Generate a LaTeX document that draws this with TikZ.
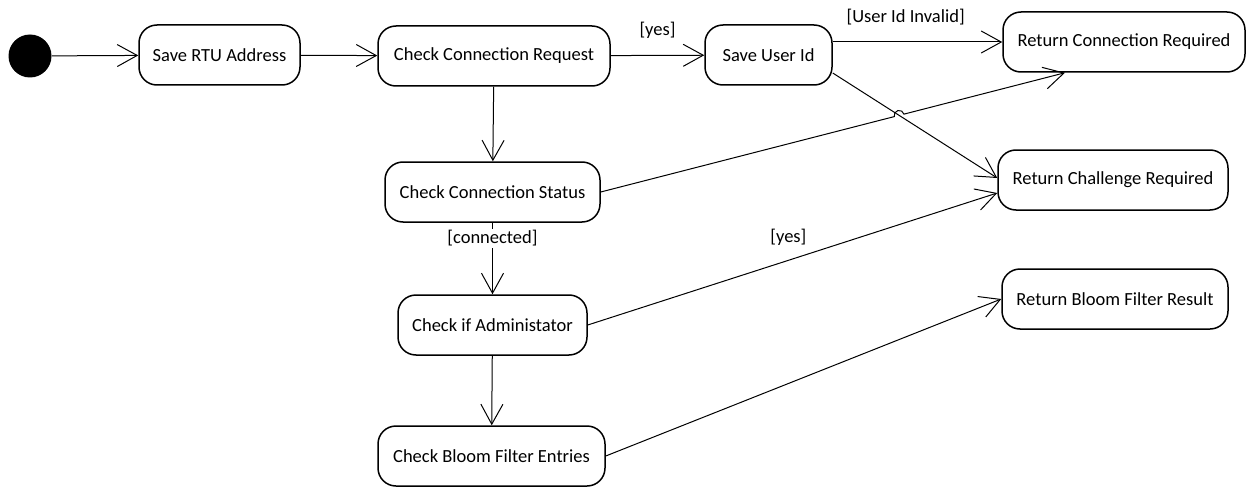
\documentclass[tikz,border=0pt]{standalone}
\usepackage{fontspec}
\setmainfont{Carlito}
\usetikzlibrary{arrows.meta,calc,intersections}

\tikzset{
  activity/.style={draw,line width=1.5pt,rounded corners=18pt,minimum height=60pt,
    inner sep=0pt,font=\fontsize{18.5}{22}\selectfont},
  guard/.style={inner sep=2pt,font=\fontsize{18.5}{22}\selectfont},
}

\begin{document}
\begin{tikzpicture}[x=1pt,y=-1pt,line width=1pt,>={Straight Barb[length=20pt,width=22pt]}]
        \useasboundingbox (0,0) rectangle (1256,487);

        % initial state
        \node[circle,fill=black,minimum size=43pt,inner sep=0pt] (start) at (30,56) {};

        % the activities
        \foreach \name/\x/\y/\w/\txt in {
            rtu/219.5/55/161/Save RTU Address,
            conreq/494/56/232/Check Connection Request,
            userid/768.5/55/127/Save User Id,
            retconn/1124/42/242/Return Connection Required,
            constat/492.5/192/215/Check Connection Status,
            retchal/1113/180/230/Return Challenge Required,
            admin/492.5/325/189/Check if Administator,
            retbloom/1115/299/226/Return Bloom Filter Result,
            bloom/491.5/456/227/Check Bloom Filter Entries}
                \node[activity,minimum width=\w pt] (\name) at (\x,\y) {\txt};

        % top row
        \draw[->] (start) -- (rtu);
        \draw[->] (rtu) -- (conreq);
        \draw[->] (conreq) -- node[guard,yshift=25pt] {[yes]} (userid);
        \draw[->] ([yshift=13pt]userid.east) -- node[guard,pos=.43,yshift=25pt] {[User Id Invalid]} (retconn.west);
        \draw[->,name path=diag] ([yshift=-18pt]userid.east) -- ([yshift=2pt]retchal.west);

        % connection status back to the top, hopping over the diagonal
        \path[name path=upline] (constat.east) -- ([xshift=-59pt]retconn.south);
        \draw[->,name intersections={of=diag and upline,by=hop}] (constat.east)
            -- ($(hop)!5pt!(constat.east)$) arc[start angle=194.3,end angle=14.3,radius=5pt]
            -- ([xshift=-59pt]retconn.south);

        % left column
        \draw[->] (conreq) -- (constat);
        \draw[->] (constat) -- node[guard,pos=.22,fill=white] {[connected]} (admin);
        \draw[->] (admin) -- (bloom);
        \draw[->] (admin.east) -- node[guard,pos=.49,yshift=23pt] {[yes]} ([yshift=-13pt]retchal.west);
        \draw[->] (bloom.east) -- (retbloom.west);
\end{tikzpicture}
\end{document}
